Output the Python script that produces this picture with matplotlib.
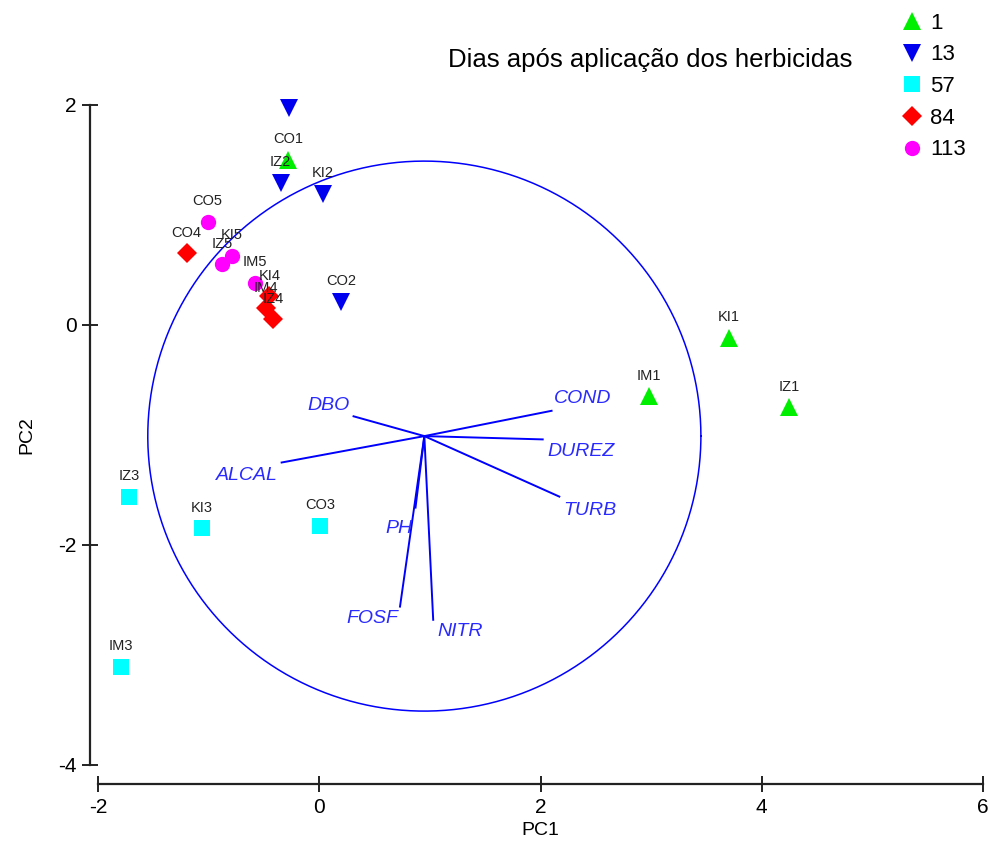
# -*- coding: utf-8 -*-

import numpy as np
import matplotlib
matplotlib.use('Agg')
import matplotlib.pyplot as plt

plt.rcParams['font.family'] = ['Liberation Sans', 'DejaVu Sans']
plt.rcParams['axes.unicode_minus'] = False

# scores by days after application
DAYS = ['1', '13', '57', '84', '113']
DAY1_X = [-0.28, 3.70, 2.98, 4.25]
DAY1_Y = [1.50, -0.12, -0.65, -0.75]
DAY1_LBL = ['CO1', 'KI1', 'IM1', 'IZ1']

DAY13_X = [-0.27, -0.35, 0.03, 0.20]
DAY13_Y = [1.97, 1.29, 1.19, 0.21]
DAY13_LBL = ['', 'IZ2', 'KI2', 'CO2']

DAY57_X = [-1.72, -1.06, 0.01, -1.79]
DAY57_Y = [-1.56, -1.85, -1.83, -3.11]
DAY57_LBL = ['IZ3', 'KI3', 'CO3', 'IM3']

DAY84_X = [-1.20, -0.45, -0.48, -0.42]
DAY84_Y = [0.65, 0.26, 0.15, 0.05]
DAY84_LBL = ['CO4', 'KI4', 'IM4', 'IZ4']

DAY113_X = [-1.01, -0.79, -0.88, -0.58]
DAY113_Y = [0.94, 0.63, 0.55, 0.38]
DAY113_LBL = ['CO5', 'KI5', 'IZ5', 'IM5']

# loadings
VAR_NAMES = ['DBO', 'COND', 'DUREZ', 'TURB', 'ALCAL', 'PH', 'FOSF', 'NITR']
VAR_X = [0.31, 2.10, 2.02, 2.17, -0.34, 0.87, 0.73, 1.03]
VAR_Y = [-0.83, -0.78, -1.04, -1.56, -1.25, -1.66, -2.56, -2.68]
VAR_TX = [0.08, 2.38, 2.37, 2.45, -0.65, 0.72, 0.48, 1.27]
VAR_TY = [-0.73, -0.67, -1.15, -1.69, -1.37, -1.85, -2.67, -2.79]
ORIGIN = (0.95, -1.01)
RADIUS = 2.5

groups = [
    (DAY1_X, DAY1_Y, DAY1_LBL, '^', '#00ee00', 13),
    (DAY13_X, DAY13_Y, DAY13_LBL, 'v', '#0000ee', 13),
    (DAY57_X, DAY57_Y, DAY57_LBL, 's', '#00ffff', 11),
    (DAY84_X, DAY84_Y, DAY84_LBL, 'D', '#ff0000', 10.5),
    (DAY113_X, DAY113_Y, DAY113_LBL, 'o', '#ff00ff', 11),
]

fig = plt.figure(figsize=(9.88, 8.46), dpi=100)
ax = fig.add_axes([98/988, 81/846, 885/988, 660/846])
ax.set_xlim(-2, 6)
ax.set_ylim(-4, 2)

# correlation circle and vectors
th = np.linspace(0, 2*np.pi, 400)
ax.plot(ORIGIN[0] + RADIUS*np.cos(th), ORIGIN[1] + RADIUS*np.sin(th),
        color='#0000ff', lw=1.1)
for name, vx, vy, tx, ty in zip(VAR_NAMES, VAR_X, VAR_Y, VAR_TX, VAR_TY):
    ax.plot([ORIGIN[0], vx], [ORIGIN[1], vy], color='#0000ff', lw=1.4)
    ax.text(tx, ty, name, color='#2a2aff', style='italic', fontsize=14,
            ha='center', va='center')

for (xs, ys, lbls, mk, col, ms), day in zip(groups, DAYS):
    ax.plot(xs, ys, linestyle='none', marker=mk, color=col, markersize=ms,
            markeredgewidth=0, label=day, clip_on=False, zorder=3)
    for x, y, l in zip(xs, ys, lbls):
        ax.annotate(l, (x, y), xytext=(0, 15), textcoords='offset points',
                    ha='center', va='center', fontsize=10.5, color='#222222',
                    zorder=4)

for s in ['top', 'right']:
    ax.spines[s].set_visible(False)
ax.spines['left'].set_position(('outward', 6))
ax.spines['bottom'].set_position(('outward', 14))
ax.spines['left'].set_bounds(-4, 2)
ax.spines['bottom'].set_bounds(-2, 6)
for s in ['left', 'bottom']:
    ax.spines[s].set_linewidth(1.6)
    ax.spines[s].set_color('#222222')
ax.set_xticks([-2, 0, 2, 4, 6])
ax.set_yticks([-4, -2, 0, 2])
ax.tick_params(direction='inout', length=12, width=1.4, labelsize=15,
               color='#222222')
ax.set_xlabel('PC1', fontsize=14, labelpad=4)
ax.set_ylabel('PC2', fontsize=14, labelpad=16)

fig.text(650/988, 1 - 60/846, 'Dias após aplicação dos herbicidas',
         ha='center', va='center', fontsize=18.5)
fig.legend(loc='upper left', bbox_to_anchor=(890/988, 0.998), frameon=False,
           fontsize=16, labelspacing=0.48, handletextpad=0.3,
           handlelength=1.0, borderaxespad=0.1)

fig.savefig('out.png', dpi=100)
